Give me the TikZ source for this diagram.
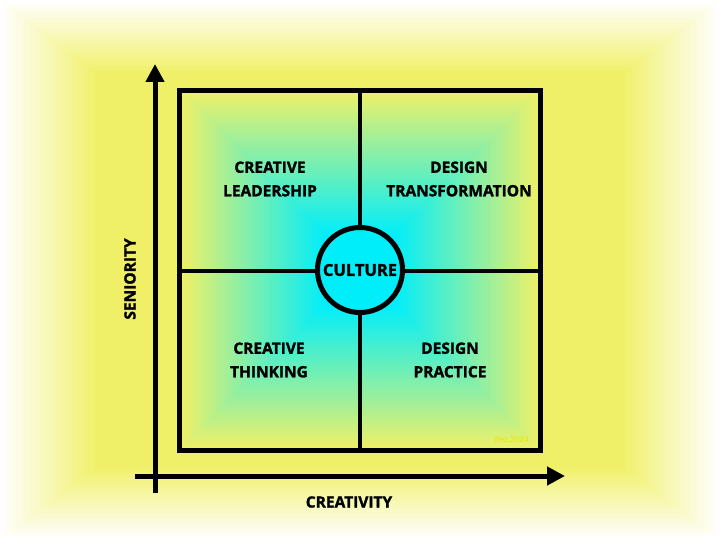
\documentclass[tikz,border=0pt]{standalone}
\usepackage{fontspec}
\setmainfont{Open Sans}[BoldFeatures={FakeBold=1.6}]
\newfontfamily\arialf{Liberation Sans}
\usetikzlibrary{arrows.meta}
\definecolor{ylw}{RGB}{240,240,104}
\definecolor{cyn}{RGB}{0,238,250}
\definecolor{sig}{RGB}{236,230,0}
\begin{document}
\begin{tikzpicture}[x=1pt,y=-1pt,
  lbl/.style={font=\bfseries\fontsize{15.5}{23.5}\selectfont, align=center, text=black},
  axl/.style={font=\bfseries\fontsize{15.5}{18}\selectfont, text=black},
  axis/.style={line width=5pt, -{Triangle[length=18pt,width=18pt]}},
  grid/.style={line width=4pt},
]
\useasboundingbox (0,0) rectangle (720,540);
% background: yellow with white edges
\foreach \k in {0,...,30}{
  \pgfmathsetmacro\s{1-0.27*\k/30}
  \pgfmathsetmacro\p{100*\k/30}
  \fill[ylw!\p!white] ({360-360*\s},{270-270*\s}) rectangle ({360+360*\s},{270+270*\s});
}
% inner square shading
\foreach \i in {0,...,60}{
  \pgfmathsetmacro\t{1-\i/60}
  \pgfmathsetmacro\p{max(0,min(100,100*(\t-0.2)/0.8))}
  \fill[ylw!\p!cyn] ({360.25-180.5*\t},{270.5-180*\t}) rectangle ({360.25+180.5*\t},{270.5+180*\t});
}
\node[minimum width=361pt, minimum height=360pt, inner sep=0pt, outer sep=0pt] (sq) at (360.25,270.5) {};
\draw[grid] (sq.north) -- (sq.south);
\draw[grid] (sq.west) -- (sq.east);
\draw[line width=5pt] (sq.north west) rectangle (sq.south east);
\node[circle, draw, line width=5pt, fill=cyn, minimum size=85pt, inner sep=0pt] (cul) at (360,270) {};
\node[lbl, font=\bfseries\fontsize{16.5}{18}\selectfont] (cult) at (360,270) {CULTURE};
% quadrant labels
\node[lbl] (cl) at (270,179) {CREATIVE\\LEADERSHIP};
\node[lbl] (dt) at (459,179) {DESIGN\\TRANSFORMATION};
\node[lbl] (ct) at (269,360) {CREATIVE\\THINKING};
\node[lbl] (dp) at (450,360) {DESIGN\\PRACTICE};
\node[font=\arialf\fontsize{8.5}{9}\selectfont, text=sig] (sg) at (511,440) {Yeo,2024};
% axes
\coordinate (yb) at (155,493);
\coordinate (yt) at (155,64);
\coordinate (xl) at (135,476);
\coordinate (xr) at (565,476);
\draw[axis] (yb) -- (yt);
\draw[axis] (xl) -- (xr);
\node[axl, rotate=90] (sen) at (130,279) {SENIORITY};
\node[axl] (cre) at (349,502) {CREATIVITY};
\end{tikzpicture}
\end{document}
